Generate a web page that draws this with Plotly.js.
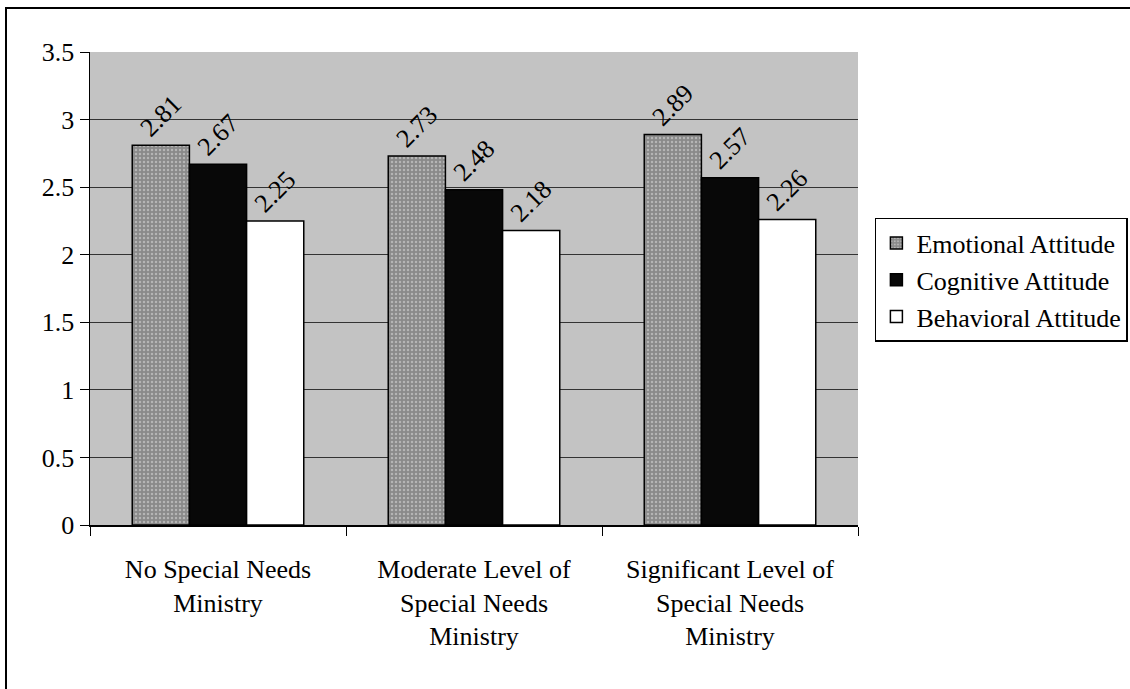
<!DOCTYPE html>
<html>
<head>
<meta charset="utf-8">
<script src="https://cdn.plot.ly/plotly-3.0.1.min.js"></script>
<style>
html,body{margin:0;padding:0;background:#fff;overflow:hidden;}
#frame{position:absolute;left:5px;top:7px;width:1140px;height:700px;border:2px solid #000;box-sizing:border-box;}
#chart{position:absolute;left:0;top:0;width:1130px;height:689px;}
</style>
</head>
<body>
<div id="frame"></div>
<div id="chart"></div>
<script>
const categories = ["No Special Needs<br>Ministry", "Moderate Level of<br>Special Needs<br>Ministry", "Significant Level of<br>Special Needs<br>Ministry"];
const emotional = [2.81, 2.73, 2.89];
const cognitive = [2.67, 2.48, 2.57];
const behavioral = [2.25, 2.18, 2.26];
const seriesNames = ["Emotional Attitude", "Cognitive Attitude", "Behavioral Attitude"];
const yTicks = [0, 0.5, 1, 1.5, 2, 2.5, 3, 3.5];
const yTickText = ["0", "0.5", "1", "1.5", "2", "2.5", "3", "3.5"];

const font = {family: "'Liberation Serif', 'Times New Roman', Times, serif", size: 26, color: "#000"};

function bar(name, vals, color, pattern) {
  return {
    type: "bar", name: name, x: categories, y: vals,
    text: vals.map(v => v.toFixed(2)),
    textposition: "outside", textangle: -45, cliponaxis: false,
    textfont: font,
    marker: {color: color, line: {color: "#000", width: 1.5}, pattern: pattern},
    hoverinfo: "none"
  };
}

const data = [
  bar(seriesNames[0], emotional, "#8a8a8a", {shape: ".", fgcolor: "#b5b5b5", bgcolor: "#8a8a8a", size: 4, solidity: 0.3}),
  bar(seriesNames[1], cognitive, "#080808", {shape: ""}),
  bar(seriesNames[2], behavioral, "#ffffff", {shape: ""})
];

const layout = {
  width: 1130, height: 689,
  margin: {l: 90, r: 272, t: 52, b: 164, autoexpand: false},
  paper_bgcolor: "rgba(0,0,0,0)",
  plot_bgcolor: "#c3c3c3",
  font: font,
  barmode: "group",
  bargap: 0.33, bargroupgap: 0,
  showlegend: true,
  legend: {
    x: 1.022, xanchor: "left", y: 0.518, yanchor: "middle",
    bordercolor: "#000", borderwidth: 1.5, bgcolor: "#fff",
    font: font, itemwidth: 30, tracegroupgap: 0
  },
  xaxis: {
    type: "category", showline: true, linecolor: "#000", linewidth: 1.5,
    ticks: "outside", tickson: "boundaries", ticklen: 9, tickcolor: "#000",
    ticklabelstandoff: 20,
    tickfont: font, showgrid: false, zeroline: false, fixedrange: true
  },
  yaxis: {
    range: [0, 3.5], tickvals: yTicks, ticktext: yTickText,
    showline: true, linecolor: "#000", linewidth: 1.5,
    ticks: "outside", ticklen: 9, tickcolor: "#000", tickfont: font,
    showgrid: true, gridcolor: "#333", gridwidth: 1, zeroline: false, fixedrange: true
  }
};

Plotly.newPlot("chart", data, layout, {staticPlot: true, displayModeBar: false});
</script>
</body>
</html>
